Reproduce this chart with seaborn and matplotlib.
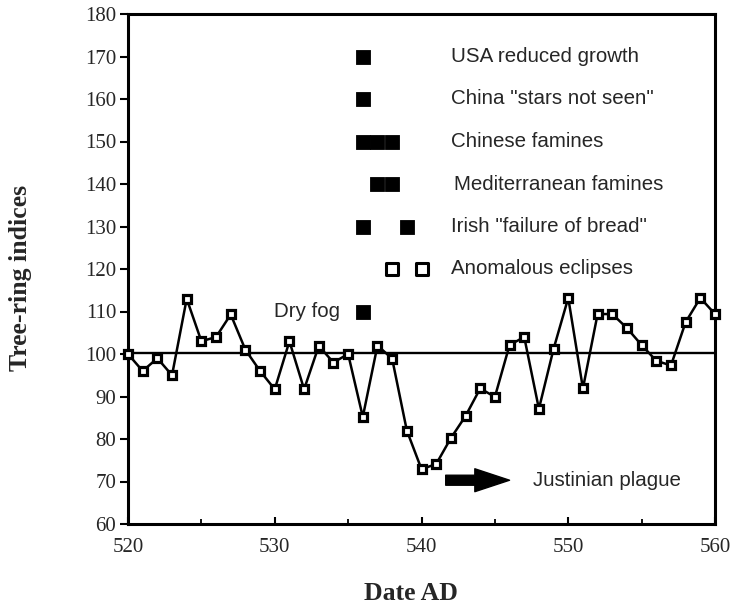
import numpy as np
import pandas as pd
import seaborn as sns
import matplotlib
matplotlib.use("Agg")
import matplotlib.pyplot as plt
from matplotlib.ticker import MultipleLocator

# ---- data ----
years = list(range(520, 561))
ring_index = [100, 96, 99, 95, 113, 103, 104, 109.3, 101, 96,
              91.7, 103, 91.7, 101.9, 98, 100, 85.2, 102, 98.9, 82,
              72.9, 74.1, 80.2, 85.4, 91.9, 89.9, 102.1, 104, 87.1, 101.2,
              113.2, 91.9, 109.4, 109.4, 106.1, 102.1, 98.4, 97.3, 107.5, 113.2,
              109.4]
mean_level = 100.3

event_labels = ["USA reduced growth", 'China "stars not seen"', "Chinese famines",
                "Mediterranean famines", 'Irish "failure of bread"',
                "Anomalous eclipses", "Dry fog"]
event_levels = [170, 160, 150, 140, 130, 120, 110]
event_years = [[536], [536], [536, 537, 538], [537, 538], [536, 539], [538, 540], [536]]
event_open = [False, False, False, False, False, True, False]

plague_label = "Justinian plague"
plague_start = 541.65
plague_end = 546.0
plague_level = 70.3

x_ticks = [520, 530, 540, 550, 560]
y_ticks = list(range(60, 181, 10))

# ---- build tables ----
series = pd.DataFrame({"Date AD": years, "Tree-ring indices": ring_index})
rows = []
for lab, lev, yrs, op in zip(event_labels, event_levels, event_years, event_open):
    for y in yrs:
        rows.append({"label": lab, "year": y, "level": lev, "open": op})
events = pd.DataFrame(rows)

# ---- style ----
sns.set_theme(style="ticks")
plt.rcParams["font.family"] = ["Liberation Sans", "DejaVu Sans"]

fig = plt.figure(figsize=(7.31, 6.07), dpi=100)
ax = fig.add_axes([128 / 731, 1 - 524 / 607, 587 / 731, 510 / 607])

ax.axhline(mean_level, color="black", lw=1.7, zorder=2)

sns.lineplot(data=series, x="Date AD", y="Tree-ring indices", ax=ax,
             color="black", linewidth=1.8, marker="s", markersize=5.4,
             markeredgewidth=2.3, markeredgecolor="black",
             markerfacecolor="white", clip_on=False, zorder=3)

filled = events[~events["open"]]
opened = events[events["open"]]
sns.scatterplot(data=filled, x="year", y="level", ax=ax, marker="s",
                s=10.2 ** 2, color="black", edgecolor="black", linewidth=0.6,
                legend=False, zorder=4)
sns.scatterplot(data=opened, x="year", y="level", ax=ax, marker="s",
                s=8.1 ** 2, facecolor="white", edgecolor="black", linewidth=2.2,
                legend=False, zorder=4)

# event labels
for lab, lev in zip(event_labels, event_levels):
    if lab == "Dry fog":
        ax.text(534.45, lev, lab, ha="right", va="center", fontsize=14.8)
    elif lab.startswith("Mediterranean"):
        ax.text(542.2, lev, lab, ha="left", va="center", fontsize=14.8)
    else:
        ax.text(542.0, lev, lab, ha="left", va="center", fontsize=14.8)

# plague arrow
ax.annotate("", xy=(plague_end, plague_level), xytext=(plague_start, plague_level),
            arrowprops=dict(arrowstyle="simple,head_length=25,head_width=16.5,tail_width=7.2",
                            mutation_scale=1, fc="black", ec="black",
                            shrinkA=0, shrinkB=0))
ax.text(547.6, plague_level, plague_label, ha="left", va="center", fontsize=14.8)

# axes
ax.set_xlim(520, 560)
ax.set_ylim(60, 180)
ax.set_xticks(x_ticks)
ax.set_yticks(y_ticks)
ax.xaxis.set_minor_locator(MultipleLocator(5))
for s in ax.spines.values():
    s.set_linewidth(2.2)
    s.set_color("black")
    s.set_visible(True)

ax.tick_params(axis="y", direction="out", length=5.5, width=1.5, pad=3,
               labelsize=15, color="black")
ax.tick_params(axis="x", which="major", direction="in", length=5, width=1.5,
               pad=10.3, labelsize=15, color="black")
ax.tick_params(axis="x", which="minor", direction="in", length=3.5, width=1.3,
               color="black")
for t in ax.get_xticklabels() + ax.get_yticklabels():
    t.set_fontfamily("Liberation Serif")

ax.set_xlabel("Date AD", fontfamily="Liberation Serif", fontweight="bold",
              fontsize=18.5)
ax.set_ylabel("Tree-ring indices", fontfamily="Liberation Serif",
              fontweight="bold", fontsize=18.5)
ax.xaxis.set_label_coords(0.482, -0.1137)
ax.yaxis.set_label_coords(-0.163, 0.483)

fig.savefig("out.png", dpi=100, facecolor="white")
